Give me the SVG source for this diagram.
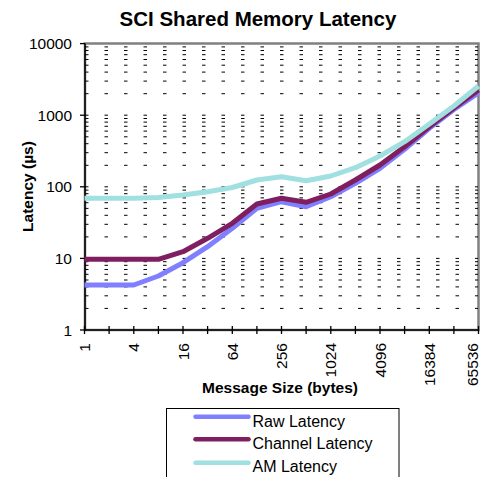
<svg xmlns="http://www.w3.org/2000/svg" width="482" height="477" viewBox="0 0 482 477">
<style>
text{font-family:"Liberation Sans",Arial,sans-serif;fill:#000}
.title{font-size:20.5px;font-weight:bold;text-anchor:middle}
.axt{font-size:15.5px;font-weight:bold;text-anchor:middle}
.yl{font-size:15.5px;text-anchor:end}
.xl{font-size:15.5px;text-anchor:end}
.lg{font-size:16px}
.grid line{stroke:#000;stroke-width:1;stroke-dasharray:3.5 16}
.tick{stroke:#000;stroke-width:1.3}
.series{fill:none;stroke-width:5;stroke-linejoin:round}
.raw{stroke:#8080FF}
.chan{stroke:#7F1F5F}
.am{stroke:#A0E0E0}
</style>
<rect width="482" height="477" fill="#fff"/>
<text class="title" x="258" y="26">SCI Shared Memory Latency</text>
<g id="plot-area">
<rect x="85" y="43.5" width="393.5" height="286.5" fill="#fff" stroke="#808080" stroke-width="2.5"/>
</g>
<g id="gridlines" class="grid">
<line x1="85" x2="478" y1="308.4" y2="308.4"/><line x1="85" x2="478" y1="295.8" y2="295.8"/><line x1="85" x2="478" y1="286.9" y2="286.9"/><line x1="85" x2="478" y1="280" y2="280"/><line x1="85" x2="478" y1="274.3" y2="274.3"/><line x1="85" x2="478" y1="269.5" y2="269.5"/><line x1="85" x2="478" y1="265.3" y2="265.3"/><line x1="85" x2="478" y1="261.7" y2="261.7"/><line x1="85" x2="478" y1="258.4" y2="258.4"/>
<line x1="85" x2="478" y1="236.9" y2="236.9"/><line x1="85" x2="478" y1="224.3" y2="224.3"/><line x1="85" x2="478" y1="215.3" y2="215.3"/><line x1="85" x2="478" y1="208.4" y2="208.4"/><line x1="85" x2="478" y1="202.7" y2="202.7"/><line x1="85" x2="478" y1="197.9" y2="197.9"/><line x1="85" x2="478" y1="193.7" y2="193.7"/><line x1="85" x2="478" y1="190.1" y2="190.1"/><line x1="85" x2="478" y1="186.8" y2="186.8"/>
<line x1="85" x2="478" y1="165.3" y2="165.3"/><line x1="85" x2="478" y1="152.7" y2="152.7"/><line x1="85" x2="478" y1="143.7" y2="143.7"/><line x1="85" x2="478" y1="136.8" y2="136.8"/><line x1="85" x2="478" y1="131.1" y2="131.1"/><line x1="85" x2="478" y1="126.3" y2="126.3"/><line x1="85" x2="478" y1="122.1" y2="122.1"/><line x1="85" x2="478" y1="118.5" y2="118.5"/><line x1="85" x2="478" y1="115.2" y2="115.2"/>
<line x1="85" x2="478" y1="93.7" y2="93.7"/><line x1="85" x2="478" y1="81.1" y2="81.1"/><line x1="85" x2="478" y1="72.1" y2="72.1"/><line x1="85" x2="478" y1="65.2" y2="65.2"/><line x1="85" x2="478" y1="59.5" y2="59.5"/><line x1="85" x2="478" y1="54.7" y2="54.7"/><line x1="85" x2="478" y1="50.5" y2="50.5"/><line x1="85" x2="478" y1="46.9" y2="46.9"/>
</g>
<g id="axes">
<line x1="85" y1="43.5" x2="85" y2="330.5" stroke="#000" stroke-width="1.5"/>
<line x1="84.5" y1="330" x2="478" y2="330" stroke="#000" stroke-width="1.5"/>
<g class="tick">
<line x1="80" x2="85" y1="43.6" y2="43.6"/><line x1="80" x2="85" y1="115.2" y2="115.2"/><line x1="80" x2="85" y1="186.8" y2="186.8"/><line x1="80" x2="85" y1="258.4" y2="258.4"/><line x1="80" x2="85" y1="330" y2="330"/>
<line x1="84.5" x2="84.5" y1="326" y2="334"/><line x1="109.1" x2="109.1" y1="326" y2="334"/><line x1="133.8" x2="133.8" y1="326" y2="334"/><line x1="158.4" x2="158.4" y1="326" y2="334"/><line x1="183" x2="183" y1="326" y2="334"/><line x1="207.6" x2="207.6" y1="326" y2="334"/><line x1="232.3" x2="232.3" y1="326" y2="334"/><line x1="256.9" x2="256.9" y1="326" y2="334"/><line x1="281.5" x2="281.5" y1="326" y2="334"/><line x1="306.1" x2="306.1" y1="326" y2="334"/><line x1="330.8" x2="330.8" y1="326" y2="334"/><line x1="355.4" x2="355.4" y1="326" y2="334"/><line x1="380" x2="380" y1="326" y2="334"/><line x1="404.6" x2="404.6" y1="326" y2="334"/><line x1="429.3" x2="429.3" y1="326" y2="334"/><line x1="453.9" x2="453.9" y1="326" y2="334"/><line x1="478.5" x2="478.5" y1="326" y2="334"/>
</g>
<text class="yl" x="72" y="49.3">10000</text>
<text class="yl" x="72" y="120.8">1000</text>
<text class="yl" x="72" y="192.4">100</text>
<text class="yl" x="72" y="264">10</text>
<text class="yl" x="72" y="335.6">1</text>
<text class="xl" transform="translate(90,343) rotate(-90)">1</text>
<text class="xl" transform="translate(139.3,343) rotate(-90)">4</text>
<text class="xl" transform="translate(188.5,343) rotate(-90)">16</text>
<text class="xl" transform="translate(237.8,343) rotate(-90)">64</text>
<text class="xl" transform="translate(287,343) rotate(-90)">256</text>
<text class="xl" transform="translate(336.3,343) rotate(-90)">1024</text>
<text class="xl" transform="translate(385.5,343) rotate(-90)">4096</text>
<text class="xl" transform="translate(434.8,343) rotate(-90)">16384</text>
<text class="xl" transform="translate(478,343) rotate(-90)">65536</text>
<text class="axt" x="280" y="392.5">Message Size (bytes)</text>
<text class="axt" transform="translate(32.5,186.5) rotate(-90)">Latency (µs)</text>
</g>
<g id="connectors">
<polyline id="raw-latency" class="series raw" points="84.5,285 109.1,285 133.8,285 158.4,276 183,262.7 207.6,246.7 232.3,228.3 256.9,208.3 281.5,201.7 306.1,206.7 330.8,196.7 355.4,183.3 380,168.3 404.6,149.3 429.3,128.3 453.9,109.5 478.5,93"/>
<polyline id="channel-latency" class="series chan" points="84.5,259.3 109.1,259.3 133.8,259.3 158.4,259.3 183,251.7 207.6,238.3 232.3,223.3 256.9,204 281.5,198.3 306.1,202.3 330.8,194 355.4,180 380,165 404.6,146.7 429.3,126.7 453.9,108 478.5,90"/>
<polyline id="am-latency" class="series am" points="84.5,198.3 109.1,198.3 133.8,198.3 158.4,197.5 183,195 207.6,191.7 232.3,187.5 256.9,180 281.5,176.7 306.1,180.7 330.8,176 355.4,167.7 380,156 404.6,141.7 429.3,124 453.9,106 478.5,86"/>
</g>
<g id="legend">
<rect x="166.5" y="408.5" width="232.5" height="80" fill="#fff" stroke="#000" stroke-width="1"/>
<line x1="195.5" y1="416.7" x2="248.5" y2="416.7" stroke="#8080FF" stroke-width="4.5" stroke-linecap="round"/>
<text class="lg" x="252.5" y="426.7">Raw Latency</text>
<line x1="195.5" y1="439.3" x2="248.5" y2="439.3" stroke="#7F1F5F" stroke-width="4.5" stroke-linecap="round"/>
<text class="lg" x="252.5" y="449.3">Channel Latency</text>
<line x1="195.5" y1="462.7" x2="248.5" y2="462.7" stroke="#A0E0E0" stroke-width="4.5" stroke-linecap="round"/>
<text class="lg" x="252.5" y="472.3">AM Latency</text>
</g>
</svg>
